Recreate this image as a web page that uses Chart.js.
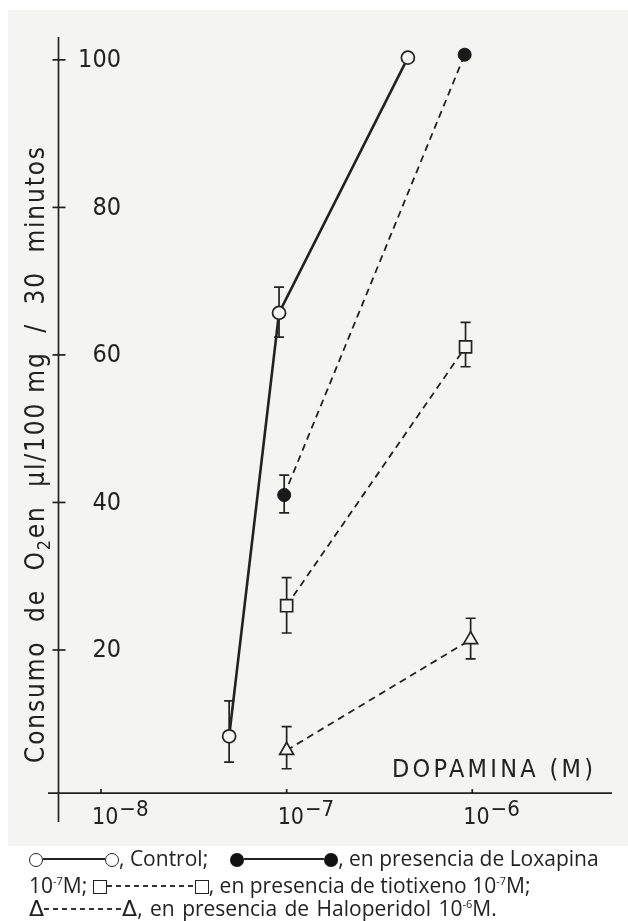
<!DOCTYPE html>
<html>
<head>
<meta charset="utf-8">
<script src="https://cdn.jsdelivr.net/npm/chart.js@4"></script>
<style>
  html, body { margin: 0; padding: 0; background: #ffffff; }
  body { width: 628px; height: 921px; position: relative; overflow: hidden; }
  #paper { position: absolute; left: 8px; top: 10px; width: 620px; height: 836px; background: #f4f4f2; }
  #chart { position: absolute; left: 0; top: 0; }
  .legend { position: absolute; left: 29px; font-family: "Open Sans", sans-serif; font-size: 21px;
            color: #222; white-space: nowrap; line-height: 24px; }
  .legend sup { font-size: 11px; vertical-align: 8px; }
  .sym { display: inline-block; box-sizing: border-box; vertical-align: -1px; }
  .oc { width: 14px; height: 14px; border: 1.5px solid #222; border-radius: 50%; }
  .fc { width: 14px; height: 14px; background: #111; border-radius: 50%; }
  .sq { width: 14px; height: 14px; border: 1.5px solid #222; }
  .tri { font-family: "DejaVu Sans", sans-serif; font-size: 22px; line-height: 20px; }
  .seg { display: inline-block; vertical-align: 6px; height: 1.6px; }
  .solid { background: #222; }
  .dash { background: repeating-linear-gradient(to right, #333 0 5px, transparent 5px 9px); }
</style>
</head>
<body>
<div id="paper"></div>
<canvas id="chart" width="628" height="845"></canvas>
<div class="legend" style="top:846px"><span class="sym oc"></span><span class="seg solid" style="width:62px"></span><span class="sym oc"></span>, Control;<span style="display:inline-block;width:22px"></span><span class="sym fc"></span><span class="seg solid" style="width:80px"></span><span class="sym fc"></span>, en presencia de Loxapina</div>
<div class="legend" style="top:869px">10<sup>-7</sup>M; <span class="sym sq"></span><span class="seg dash" style="width:88px"></span><span class="sym sq"></span>, en presencia de tiotixeno 10<sup>-7</sup>M;</div>
<div class="legend" style="top:892px; word-spacing: 2px"><span class="tri">Δ</span><span class="seg dash" style="width:78px"></span><span class="tri">Δ</span>, en presencia de Haloperidol 10<sup>-6</sup>M.</div>
<script>
// ---------- Data ----------
// Control (open circles, solid line)
const controlX = [4.9e-8, 9.1e-8, 4.5e-7];
const controlY = [8.3, 65.7, 100.3];
const controlHi = [13.1, 69.2, null];
const controlLo = [4.8, 62.4, null];

// Loxapina 10^-7 M (filled circles, dashed)
const loxX = [9.7e-8, 9.1e-7];
const loxY = [41.0, 100.7];
const loxHi = [43.7, null];
const loxLo = [38.6, null];

// Tiotixeno 10^-7 M (open squares, dashed)
const tioX = [1.0e-7, 9.2e-7];
const tioY = [26.0, 61.1];
const tioHi = [29.8, 64.4];
const tioLo = [22.3, 58.4];

// Haloperidol 10^-6 M (open triangles, dashed)
const haloX = [1.0e-7, 9.8e-7];
const haloY = [6.4, 21.4];
const haloHi = [9.6, 24.3];
const haloLo = [3.9, 18.8];

// Axes
const yTicks = [20, 40, 60, 80, 100];
const xTicks = [1e-8, 1e-7, 1e-6];
const xTickExp = ['-8', '-7', '-6'];
const yTitleParts = ['Consumo  de  O', '2', 'en  \u00b5l/100 mg  /  30  minutos'];
const xTitle = 'DOPAMINA (M)';

const INK = '#222222';
const PAPER = '#f4f4f2';
const FONT = '"DejaVu Sans Condensed", "DejaVu Sans", sans-serif';

function pts(xs, ys) {
    return xs.map((x, i) => ({ x: x, y: ys[i] }));
}

const errBars = [
    { hi: controlHi, lo: controlLo, xs: controlX },
    { hi: loxHi, lo: loxLo, xs: loxX },
    { hi: tioHi, lo: tioLo, xs: tioX },
    { hi: haloHi, lo: haloLo, xs: haloX },
];

// ---------- Hand-drawn axes, ticks, titles, error bars ----------
const paperAxes = {
    id: 'paperAxes',
    beforeDatasetsDraw(chart) {
        const ctx = chart.ctx;
        const xs = chart.scales.x;
        const ys = chart.scales.y;
        const area = chart.chartArea;
        const axisX = xs.getPixelForValue(5.9e-9);
        const axisY = ys.getPixelForValue(0.6);

        ctx.save();
        ctx.strokeStyle = INK;
        ctx.fillStyle = INK;
        ctx.lineWidth = 1.7;

        // axis lines
        ctx.beginPath();
        ctx.moveTo(axisX, area.top);
        ctx.lineTo(axisX, area.bottom);
        ctx.moveTo(area.left, axisY);
        ctx.lineTo(area.right, axisY);
        ctx.stroke();

        // y ticks + labels
        ctx.font = '25px ' + FONT;
        ctx.textAlign = 'right';
        ctx.textBaseline = 'middle';
        yTicks.forEach(v => {
            const py = ys.getPixelForValue(v);
            ctx.beginPath();
            ctx.moveTo(axisX - 6, py);
            ctx.lineTo(axisX + 7, py);
            ctx.stroke();
            ctx.fillText(String(v), 121, py + 1);
        });

        // x ticks + labels
        ctx.textAlign = 'left';
        ctx.textBaseline = 'alphabetic';
        xTicks.forEach((v, i) => {
            const px = xs.getPixelForValue(v);
            ctx.beginPath();
            ctx.moveTo(px, axisY);
            ctx.lineTo(px, axisY - 4);
            ctx.stroke();
            ctx.font = '23px ' + FONT;
            const left = px - 9;
            ctx.fillText('10', left, axisY + 31);
            const w = ctx.measureText('10').width;
            ctx.font = '22px ' + FONT;
            ctx.fillText(xTickExp[i].replace('-', '\u2212'), left + w + 1, axisY + 23);
        });

        // x title, stretched to its width in the figure
        ctx.font = '25px ' + FONT;
        ctx.letterSpacing = '0px';
        const wt = ctx.measureText(xTitle).width;
        ctx.letterSpacing = ((201 - wt) / (xTitle.length - 1)) + 'px';
        ctx.fillText(xTitle, 392, 777);
        ctx.letterSpacing = '0px';

        // y title, rotated
        ctx.save();
        ctx.translate(44, 763);
        ctx.rotate(-Math.PI / 2);
        const bigFont = '26px ' + FONT;
        const subFont = '18px ' + FONT;
        ctx.font = bigFont;
        let total = ctx.measureText(yTitleParts[0]).width + ctx.measureText(yTitleParts[2]).width;
        ctx.font = subFont;
        total += ctx.measureText(yTitleParts[1]).width;
        const nChars = yTitleParts.join('').length;
        const sp = (616 - total) / (nChars - 1);
        ctx.letterSpacing = sp + 'px';
        let cx = 0;
        ctx.font = bigFont;
        ctx.fillText(yTitleParts[0], cx, 0);
        cx += ctx.measureText(yTitleParts[0]).width;
        ctx.font = subFont;
        ctx.fillText(yTitleParts[1], cx, 6);
        cx += ctx.measureText(yTitleParts[1]).width;
        ctx.font = bigFont;
        ctx.fillText(yTitleParts[2], cx, 0);
        ctx.restore();

        // error bars
        ctx.lineWidth = 1.7;
        errBars.forEach(e => {
            e.xs.forEach((xv, j) => {
                if (e.hi[j] == null) return;
                const px = xs.getPixelForValue(xv);
                const pHi = ys.getPixelForValue(e.hi[j]);
                const pLo = ys.getPixelForValue(e.lo[j]);
                ctx.beginPath();
                ctx.moveTo(px, pHi);
                ctx.lineTo(px, pLo);
                ctx.moveTo(px - 5, pHi);
                ctx.lineTo(px + 5, pHi);
                ctx.moveTo(px - 5, pLo);
                ctx.lineTo(px + 5, pLo);
                ctx.stroke();
            });
        });
        ctx.restore();
    },
};

new Chart(document.getElementById('chart'), {
    type: 'scatter',
    data: {
        datasets: [
            {
                label: 'Control',
                data: pts(controlX, controlY),
                showLine: true,
                borderColor: INK,
                borderWidth: 2.6,
                pointStyle: 'circle',
                pointRadius: 6.5,
                pointBorderWidth: 1.7,
                pointBackgroundColor: PAPER,
                pointBorderColor: INK,
            },
            {
                label: 'Loxapina',
                data: pts(loxX, loxY),
                showLine: true,
                borderColor: INK,
                borderWidth: 1.8,
                borderDash: [7, 5],
                pointStyle: 'circle',
                pointRadius: 6.5,
                pointBorderWidth: 1,
                pointBackgroundColor: '#1a1a1a',
                pointBorderColor: '#1a1a1a',
            },
            {
                label: 'Tiotixeno',
                data: pts(tioX, tioY),
                showLine: true,
                borderColor: INK,
                borderWidth: 1.8,
                borderDash: [7, 5],
                pointStyle: 'rect',
                pointRadius: 8.5,
                pointBorderWidth: 1.7,
                pointBackgroundColor: PAPER,
                pointBorderColor: INK,
            },
            {
                label: 'Haloperidol',
                data: pts(haloX, haloY),
                showLine: true,
                borderColor: INK,
                borderWidth: 1.8,
                borderDash: [7, 5],
                pointStyle: 'triangle',
                pointRadius: 8,
                pointBorderWidth: 1.7,
                pointBackgroundColor: PAPER,
                pointBorderColor: INK,
            },
        ],
    },
    options: {
        responsive: false,
        animation: false,
        events: [],
        layout: { padding: { left: 48, right: 16, top: 37, bottom: 23 } },
        plugins: { legend: { display: false }, tooltip: { enabled: false } },
        scales: {
            x: { type: 'logarithmic', display: false, min: 5.18e-9, max: 5.66e-6 },
            y: { type: 'linear', display: false, min: -3.32, max: 103.1 },
        },
    },
    plugins: [paperAxes],
});
</script>
</body>
</html>
